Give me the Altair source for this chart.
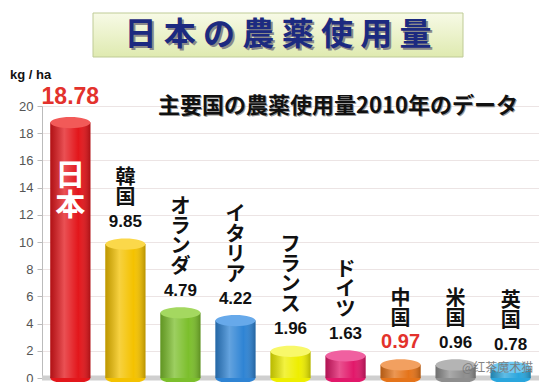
import altair as alt
import pandas as pd

# ---- data ----
countries = ["日本", "韓国", "オランダ", "イタリア", "フランス", "ドイツ", "中国", "米国", "英国"]
values = [18.78, 9.85, 4.79, 4.22, 1.96, 1.63, 0.97, 0.96, 0.78]
value_labels = ["18.78", "9.85", "4.79", "4.22", "1.96", "1.63", "0.97", "0.96", "0.78"]
bar_colors = ["#e3161b", "#f4c200", "#7cbf2c", "#2f84d4", "#eeee00", "#e2186a", "#e5741a", "#8e8e8e", "#2aa6dd"]
cap_colors = ["#f25a58", "#fbd84a", "#a4d860", "#67a9ea", "#f8f86a", "#f060a0", "#f2a060", "#b4b4b4", "#70c8f0"]
y_ticks = list(range(0, 21, 2))

title_text = "日  本  の  農  薬  使  用  量"
subtitle_text = "主要国の農薬使用量2010年のデータ"
unit_text = "kg / ha"
watermark_text = "@红茶魔术猫"

df = pd.DataFrame({
    "country": countries,
    "value": values,
    "label": value_labels,
    "vname": ["\n".join(list(c)) for c in countries],
    "nlen": [len(c) for c in countries],
})

W, H = 497, 272
CJK = "Noto Sans CJK JP"
NUM = "Liberation Sans"

xenc = alt.X("country:N", sort=countries,
             scale=alt.Scale(paddingInner=0.27, paddingOuter=0.15), axis=None)
yscale = alt.Scale(domain=[0, 20], nice=False)
yaxis = alt.Axis(values=y_ticks, title=None, grid=True, labelFontSize=13,
                 labelFont=NUM, labelColor="#555555", domainColor="#bbbbbb",
                 tickColor="#bbbbbb", tickSize=5, gridColor="#ece4e4",
                 labelPadding=4, labelOverlap=False, tickCount=11)

base = alt.Chart(df).encode(x=xenc)

bar_color = alt.Color("country:N", scale=alt.Scale(domain=countries, range=bar_colors), legend=None)
cap_color = alt.Color("country:N", scale=alt.Scale(domain=countries, range=cap_colors), legend=None)

ellipse = ("M -1 0 C -1 -0.1546 -0.5523 -0.28 0 -0.28 C 0.5523 -0.28 1 -0.1546 1 0 "
           "C 1 0.1546 0.5523 0.28 0 0.28 C -0.5523 0.28 -1 0.1546 -1 0 Z")

floor = alt.Chart(pd.DataFrame({"v": [0]})).mark_rule(color="#cfcfcf", strokeWidth=5).encode(
    y=alt.Y("v:Q", scale=yscale, axis=yaxis), x=alt.value(0), x2=alt.value(W))

bottom_cap = base.mark_point(shape=ellipse, size=1600, filled=True, opacity=1, strokeWidth=0).encode(
    y=alt.Y(datum=0, scale=yscale, axis=yaxis), color=bar_color)

bars = base.mark_bar().encode(
    y=alt.Y("value:Q", scale=yscale, axis=yaxis),
    color=bar_color)

shade = base.mark_bar(color=alt.Gradient(
    gradient="linear", x1=0, x2=1, y1=0, y2=0,
    stops=[alt.GradientStop(offset=0, color="rgba(0,0,0,0.22)"),
           alt.GradientStop(offset=0.35, color="rgba(255,255,255,0.25)"),
           alt.GradientStop(offset=0.7, color="rgba(255,255,255,0.0)"),
           alt.GradientStop(offset=1, color="rgba(0,0,0,0.25)")])).encode(
    y=alt.Y("value:Q", scale=yscale, axis=yaxis))

top_cap = base.mark_point(shape=ellipse, size=1600, filled=True, opacity=1, strokeWidth=0).encode(
    y=alt.Y("value:Q", scale=yscale, axis=yaxis), color=cap_color)

normal = base.transform_filter(
    (alt.datum.country != "日本") & (alt.datum.country != "中国"))

val_text = normal.mark_text(fontSize=17, fontWeight="bold", font=NUM, color="#111111",
                            baseline="middle", dy=-22).encode(
    y=alt.Y("value:Q", scale=yscale, axis=yaxis), text="label:N")

china_text = base.transform_filter(alt.datum.country == "中国").mark_text(
    fontSize=20, fontWeight="bold", font=NUM, color="#e3322c", baseline="middle", dy=-23).encode(
    y=alt.Y("value:Q", scale=yscale, axis=yaxis), text="label:N")

japan_val = base.transform_filter(alt.datum.country == "日本").mark_text(
    fontSize=23, fontWeight="bold", font=NUM, color="#e3322c", baseline="middle", dy=-26).encode(
    y=alt.Y("value:Q", scale=yscale, axis=yaxis), text="label:N")


def name_layer(n):
    return base.transform_filter(
        (alt.datum.country != "日本") & (alt.datum.nlen == n)).mark_text(
        fontSize=20, fontWeight="bold", font=CJK, color="#111111", baseline="bottom",
        lineBreak="\n", lineHeight=20, dy=-36 - (n - 1) * 20).encode(
        y=alt.Y("value:Q", scale=yscale, axis=yaxis), text="vname:N")


names = [name_layer(n) for n in (2, 3, 4)]

japan_name = base.transform_filter(alt.datum.country == "日本").mark_text(
    fontSize=30, fontWeight="bold", font=CJK, color="white", baseline="top",
    lineBreak="\n", lineHeight=30, dy=38).encode(
    y=alt.Y("value:Q", scale=yscale, axis=yaxis), text="vname:N")

deco = alt.Chart(pd.DataFrame({"t": [title_text]}))

title_box = deco.mark_rect(
    color=alt.Gradient(gradient="linear", x1=0, x2=0, y1=0, y2=1,
                       stops=[alt.GradientStop(offset=0, color="#f7fae6"),
                              alt.GradientStop(offset=1, color="#dfeab0")]),
    stroke="#bfcb96", strokeWidth=1).encode(
    x=alt.value(51), x2=alt.value(421), y=alt.value(-93), y2=alt.value(-49))

title_shadow = deco.mark_text(fontSize=32, fontWeight="bold", font=CJK, color="#8a8a8a",
                              baseline="middle", align="center").encode(
    x=alt.value(238), y=alt.value(-69), text="t:N")
title = deco.mark_text(fontSize=32, fontWeight="bold", font=CJK, color="#1c2a80",
                       baseline="middle", align="center").encode(
    x=alt.value(236), y=alt.value(-71), text="t:N")

sub_df = alt.Chart(pd.DataFrame({"t": [subtitle_text]}))
subtitle_shadow = sub_df.mark_text(fontSize=22, fontWeight="bold", font=CJK, color="#9a9a9a",
                                   baseline="middle", align="center").encode(
    x=alt.value(297), y=alt.value(1), text="t:N")
subtitle = sub_df.mark_text(fontSize=22, fontWeight="bold", font=CJK, color="#111111",
                            baseline="middle", align="center").encode(
    x=alt.value(296), y=alt.value(0), text="t:N")

unit = alt.Chart(pd.DataFrame({"t": [unit_text]})).mark_text(
    fontSize=13, fontWeight="bold", font=NUM, color="#111111", baseline="middle", align="left").encode(
    x=alt.value(-32), y=alt.value(-31), text="t:N")

watermark = alt.Chart(pd.DataFrame({"t": [watermark_text]})).mark_text(
    fontSize=12, font="Noto Sans CJK SC", color="#777777", baseline="middle", align="left",
    opacity=0.9).encode(x=alt.value(420), y=alt.value(262), text="t:N")

chart = alt.layer(
    floor, title_box, title_shadow, title, unit, subtitle_shadow, subtitle,
    bottom_cap, bars, shade, top_cap,
    val_text, china_text, japan_val, *names, japan_name, watermark,
).resolve_scale(color="independent").properties(
    width=W, height=H,
    autosize=alt.AutoSizeParams(type="none"),
    padding={"left": 34, "top": 98, "right": 0, "bottom": 4},
).configure_view(stroke=None).configure(background="white")

chart.save("out.html", embed_options={"renderer": "svg", "actions": False})
